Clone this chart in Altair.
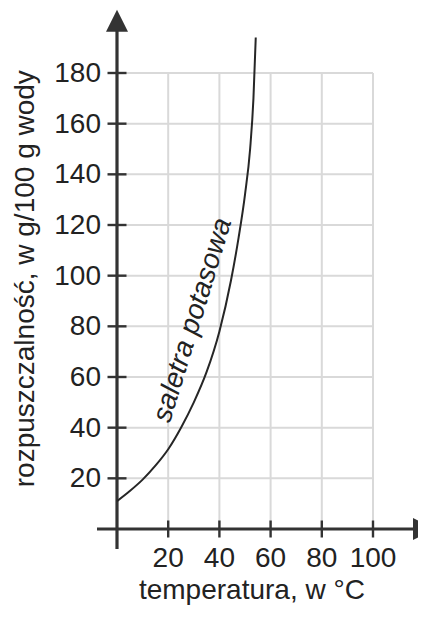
import altair as alt
import pandas as pd

# ---- data ----
temp = [0, 5, 10, 15, 20, 25, 30, 35, 40, 44.5, 47.5, 50, 52, 53.3, 54.2]
solub = [11, 15, 19.5, 25, 31.5, 40, 50, 62, 78, 98, 115, 132, 150, 170, 194]
x_ticks = [20, 40, 60, 80, 100]
y_ticks = [20, 40, 60, 80, 100, 120, 140, 160, 180]
x_title = "temperatura, w °C"
y_title = "rozpuszczalność, w g/100 g wody"
curve_label = "saletra potasowa"

# ---- layout ----
W, H = 410, 597
PX = 256 / 100          # pixels per °C
PY = 456 / 180          # pixels per g
X0, Y0 = 109, 521       # origin inside the view
xdom = [-X0 / PX, (W - X0) / PX]
ydom = [-(H - Y0) / PY, Y0 / PY]
FONT = "Liberation Sans"
AX = "#333333"
TXT = "#222222"

xs = alt.Scale(domain=xdom, nice=False, zero=False)
ys = alt.Scale(domain=ydom, nice=False, zero=False)


def X(f="x"):
    return alt.X(f"{f}:Q", scale=xs, axis=None)


def Y(f="y"):
    return alt.Y(f"{f}:Q", scale=ys, axis=None)


xmax, ymax = max(x_ticks), max(y_ticks)

vgrid = alt.Chart(pd.DataFrame({"x": x_ticks, "y": 0, "y2": ymax})).mark_rule(
    color="#d9d9d9", strokeWidth=2
).encode(x=X(), y=Y(), y2="y2:Q")

hgrid = alt.Chart(pd.DataFrame({"y": y_ticks, "x": 0, "x2": xmax})).mark_rule(
    color="#d9d9d9", strokeWidth=2
).encode(y=Y(), x=X(), x2="x2:Q")

xaxis = alt.Chart(pd.DataFrame({"x": [-20 / PX], "x2": [xdom[1]], "y": [0]})).mark_rule(
    color=AX, strokeWidth=3.2
).encode(x=X(), x2="x2:Q", y=Y())

yaxis = alt.Chart(pd.DataFrame({"y": [-20 / PY], "y2": [198], "x": [0]})).mark_rule(
    color=AX, strokeWidth=3.2
).encode(y=Y(), y2="y2:Q", x=X())

arrow_up = alt.Chart(pd.DataFrame({"x": [0], "y": [205]})).mark_point(
    shape="M0,0L1,2L-1,2Z", filled=True, size=484, color=AX, opacity=1, strokeWidth=0
).encode(x=X(), y=Y())

arrow_right = alt.Chart(pd.DataFrame({"x": [318 / PX], "y": [0]})).mark_point(
    shape="M0,0L-2,-1L-2,1Z", filled=True, size=484, color=AX, opacity=1, strokeWidth=0
).encode(x=X(), y=Y())

xtickm = alt.Chart(pd.DataFrame({"x": x_ticks, "y": 0})).mark_tick(
    orient="vertical", size=17, thickness=2.4, color=AX, opacity=1
).encode(x=X(), y=Y())

ytickm = alt.Chart(pd.DataFrame({"y": y_ticks, "x": 0})).mark_tick(
    orient="horizontal", size=19, thickness=2.4, color=AX, opacity=1
).encode(x=X(), y=Y())

xlab = alt.Chart(pd.DataFrame({"x": x_ticks, "y": 0, "t": [str(v) for v in x_ticks]})).mark_text(
    font=FONT, fontSize=28, color=TXT, align="center", baseline="alphabetic", dy=38
).encode(x=X(), y=Y(), text="t:N")

ylab = alt.Chart(pd.DataFrame({"y": y_ticks, "x": 0, "t": [str(v) for v in y_ticks]})).mark_text(
    font=FONT, fontSize=28, color=TXT, align="right", baseline="middle", dx=-16, dy=1
).encode(x=X(), y=Y(), text="t:N")

curve = alt.Chart(pd.DataFrame({"x": temp, "y": solub})).mark_line(
    interpolate="monotone", color="#262626", strokeWidth=2
).encode(x=X(), y=Y(), order="x:Q")

clabel = alt.Chart(pd.DataFrame({"x": [29.7], "y": [82.4], "t": [curve_label]})).mark_text(
    font=FONT, fontSize=28, fontStyle="italic", color=TXT, angle=287,
    align="center", baseline="middle"
).encode(x=X(), y=Y(), text="t:N")

xtitle = alt.Chart(pd.DataFrame({"x": [52.7], "y": [0], "t": [x_title]})).mark_text(
    font=FONT, fontSize=28, color=TXT, align="center", baseline="alphabetic", dy=70
).encode(x=X(), y=Y(), text="t:N")

ytitle = alt.Chart(pd.DataFrame({"x": [-32.6], "y": [98.8], "t": [y_title]})).mark_text(
    font=FONT, fontSize=28, color=TXT, angle=270, align="center", baseline="alphabetic"
).encode(x=X(), y=Y(), text="t:N")

chart = alt.layer(
    vgrid, hgrid, xaxis, yaxis, arrow_up, arrow_right, xtickm, ytickm,
    xlab, ylab, curve, clabel, xtitle, ytitle
).properties(
    width=W, height=H, autosize=alt.AutoSizeParams(type="none"), padding=0,
    background="white"
).configure_view(stroke=None)

chart.save("out.html", embed_options={"renderer": "svg", "actions": False})
